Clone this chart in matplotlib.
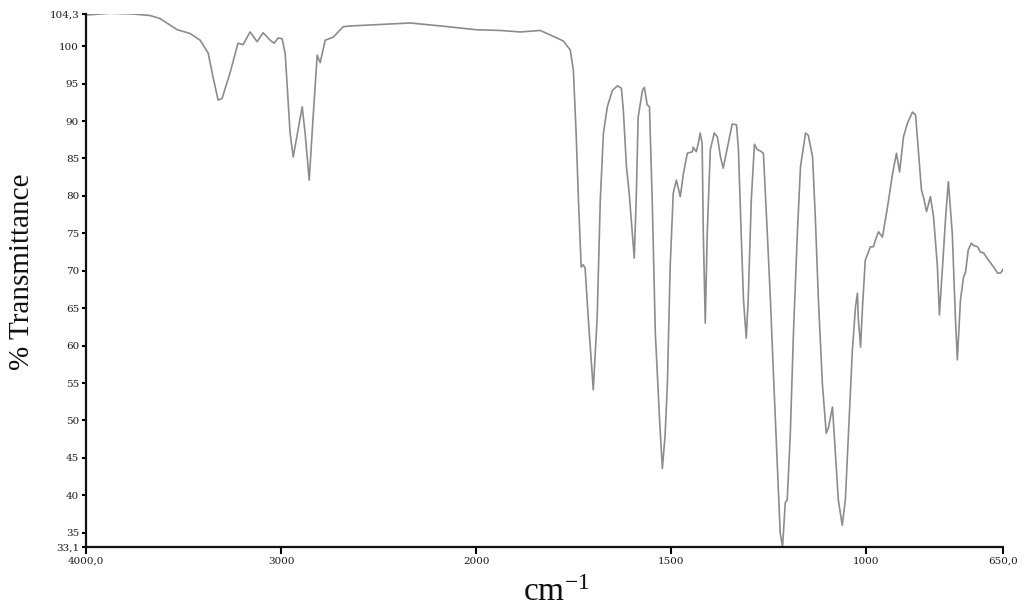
import numpy as np
import matplotlib
matplotlib.use("Agg")
import matplotlib.pyplot as plt

wavenumber = [4000, 3979, 3877, 3759, 3672, 3621, 3533, 3467, 3415, 3374, 3349, 3323, 3303, 3262,
              3221, 3195, 3159, 3123, 3092, 3056, 3036, 3015, 2995, 2979, 2954, 2938, 2923, 2892,
              2877, 2856, 2836, 2815, 2800, 2774, 2733, 2682, 2646, 2339, 2180, 2000,
              1938, 1887, 1836, 1810, 1777, 1759, 1751, 1744, 1738, 1731, 1726, 1721, 1713, 1700,
              1690, 1682, 1674, 1664, 1651, 1638, 1628, 1623, 1615, 1608, 1600, 1595, 1590, 1585,
              1574, 1569, 1562, 1556, 1549, 1541, 1530, 1523, 1516, 1510, 1503, 1495, 1487, 1477,
              1469, 1459, 1446, 1444, 1436, 1431, 1426, 1421, 1418, 1413, 1408, 1400, 1390, 1382,
              1374, 1367, 1356, 1344, 1333, 1328, 1321, 1315, 1308, 1303, 1295, 1287, 1280, 1272,
              1264, 1254, 1246, 1239, 1228, 1221, 1215, 1208, 1203, 1195, 1187, 1177, 1169, 1156,
              1149, 1138, 1131, 1123, 1113, 1103, 1097, 1087, 1080, 1072, 1062, 1054, 1046, 1036,
              1028, 1023, 1021, 1015, 1010, 1003, 990, 982, 977, 969, 959, 946, 933, 923, 915,
              905, 895, 882, 874, 867, 859, 854, 846, 836, 828, 818, 813, 805, 797, 790, 780,
              772, 767, 759, 751, 746, 739, 731, 726, 715, 708, 700, 687, 674, 664, 656, 650]

transmittance = [104.2, 104.2, 104.4, 104.3, 104.1, 103.7, 102.2, 101.7, 100.8, 99.1, 95.9, 92.8, 93.0, 96.4,
                 100.4, 100.2, 101.9, 100.6, 101.8, 100.8, 100.4, 101.1, 101.0, 99.0, 88.4, 85.2, 87.4, 91.9,
                 88.4, 82.1, 90.5, 98.8, 97.8, 100.8, 101.2, 102.6, 102.7, 103.1, 102.7, 102.2,
                 102.1, 101.9, 102.1, 101.5, 100.7, 99.5, 96.8, 88.4, 79.5, 70.5, 70.8, 70.4, 63.8, 54.1,
                 63.8, 79.5, 88.4, 91.9, 94.1, 94.7, 94.4, 91.5, 83.9, 80.4, 75.0, 71.7, 79.5, 90.5,
                 94.1, 94.5, 92.2, 91.9, 79.5, 61.7, 50.0, 43.6, 48.0, 55.0, 70.5, 80.4, 82.1, 79.9,
                 83.0, 85.7, 85.9, 86.5, 85.9, 87.0, 88.4, 87.0, 75.0, 63.0, 75.0, 86.2, 88.4, 87.9,
                 85.2, 83.7, 86.5, 89.6, 89.5, 86.2, 75.0, 66.1, 61.0, 66.1, 79.5, 86.9, 86.2, 86.0,
                 85.7, 75.0, 66.1, 57.1, 43.8, 35.0, 33.1, 39.0, 39.4, 48.3, 61.7, 75.0, 83.9, 88.4,
                 88.1, 85.2, 77.2, 66.1, 55.0, 48.3, 49.1, 51.8, 46.1, 39.4, 36.0, 39.4, 48.3, 59.4,
                 65.2, 67.0, 63.8, 59.8, 65.2, 71.4, 73.2, 73.2, 74.1, 75.2, 74.5, 78.5, 83.0, 85.7, 83.2,
                 87.9, 89.7, 91.2, 90.8, 86.2, 80.8, 79.9, 77.9, 79.9, 77.2, 70.5, 64.1, 70.5, 77.2, 81.9, 75.0,
                 63.8, 58.1, 66.1, 69.2, 69.8, 72.8, 73.7, 73.4, 73.2, 72.5, 72.4, 71.4, 70.5, 69.7, 69.7, 70.2]

x_ticks = [4000, 3000, 2000, 1500, 1000, 650]
x_tick_labels = ["4000,0", "3000", "2000", "1500", "1000", "650,0"]
y_ticks = [33.1, 35, 40, 45, 50, 55, 60, 65, 70, 75, 80, 85, 90, 95, 100, 104.3]
y_tick_labels = ["33,1", "35", "40", "45", "50", "55", "60", "65", "70", "75", "80", "85",
                 "90", "95", "100", "104,3"]


def fwd(w):
    w = np.asarray(w, dtype=float)
    return np.where(w >= 2000, 2000 + (w - 2000) * 0.5, w)


def inv(t):
    t = np.asarray(t, dtype=float)
    return np.where(t >= 2000, 2000 + (t - 2000) * 2.0, t)


plt.rcParams["mathtext.default"] = "regular"

fig = plt.figure(figsize=(10.24, 6.10), dpi=100)
ax = fig.add_axes([86 / 1024, 1 - 547 / 610, (1003 - 86) / 1024, (547 - 14) / 610])
ax.set_xscale("function", functions=(fwd, inv))
ax.plot(wavenumber, transmittance, color="#8c8c8c", lw=1.2, solid_joinstyle="round")
ax.set_xlim(4000, 650)
ax.set_ylim(33.1, 104.3)

for s in ["top", "right"]:
    ax.spines[s].set_visible(False)
for s in ["left", "bottom"]:
    ax.spines[s].set_linewidth(1.6)
    ax.spines[s].set_color("#111111")

ax.set_xticks(x_ticks)
ax.set_xticklabels(x_tick_labels)
ax.set_yticks(y_ticks)
ax.set_yticklabels(y_tick_labels)
ax.xaxis.set_minor_locator(matplotlib.ticker.NullLocator())
ax.tick_params(axis="x", direction="out", length=5, width=1.5, pad=2, labelsize=7.5)
ax.tick_params(axis="y", direction="out", length=3, width=1.5, pad=2, labelsize=7.5)
for lab in ax.get_xticklabels() + ax.get_yticklabels():
    lab.set_family("DejaVu Serif")
    lab.set_color("#1a1a1a")

fig.text(22 / 1024, 1 - 272 / 610, "% Transmittance", rotation=90, ha="center", va="center",
         fontsize=21, family="Liberation Serif", color="#111111")
fig.text(556 / 1024, 1 - 593 / 610, r"cm$^{-1}$", ha="center", va="center",
         fontsize=24, family="Liberation Serif", color="#111111")

fig.savefig("out.png", dpi=100)
